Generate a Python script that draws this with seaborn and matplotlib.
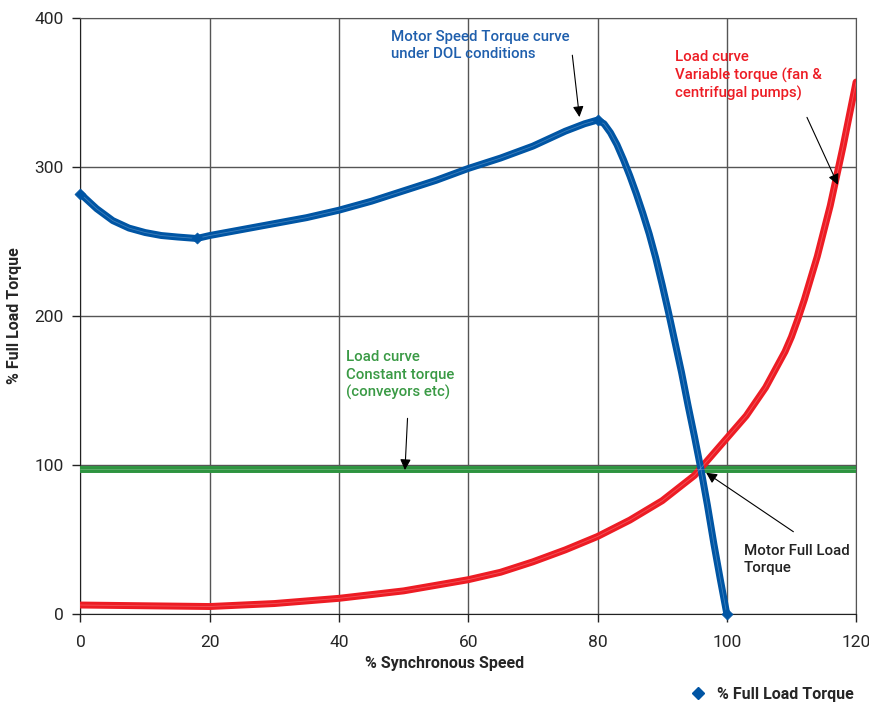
# Motor speed-torque curve under DOL start, with two load curves

import numpy as np
import pandas as pd
import seaborn as sns
import matplotlib.pyplot as plt
from matplotlib.lines import Line2D

# motor curve (% synchronous speed, % full load torque)
motor_speed = [0, 2.5, 5, 7.5, 10, 12.5, 15, 18, 20, 25, 30, 35, 40, 45, 50, 55,
               60, 65, 70, 75, 78, 80, 81, 82, 83, 84, 85, 86, 87, 88, 89, 90, 91,
               92, 93, 94, 95, 96, 97, 98, 99, 100]
motor_torque = [282, 272, 264, 259, 256, 254, 253, 252, 254, 258, 262, 266, 271, 277,
                284, 291, 299, 306, 314, 324, 329, 331.5, 329, 323, 315, 305, 294,
                282, 269, 255, 239, 221, 202, 182, 162, 140, 119, 97, 73, 47, 23, 0]

# points carrying a diamond marker
marker_speed = [0, 18, 80, 100]
marker_torque = [282, 252, 331.5, 0]

# variable torque load (fans & pumps)
var_speed = [0, 10, 20, 30, 40, 50, 60, 65, 70, 75, 80, 85, 90, 95, 100, 103, 106,
             109, 110, 111, 112, 114, 116, 118, 120]
var_torque = [6, 5.5, 5, 7, 10.5, 15.5, 23, 28, 35, 43, 52, 63, 76, 93, 118, 133,
              152, 176, 186, 198, 211, 240, 274, 314, 357]

# constant torque load (conveyors)
const_speed = [0, 120]
const_torque = [97.5, 97.5]

BLUE = "#0055a4"
RED = "#ed1c24"
GREEN = "#2e9440"

sns.set_style("white")
plt.rcParams["font.family"] = ["Roboto", "DejaVu Sans"]

fig, ax = plt.subplots(figsize=(8.7, 7.02), dpi=100)
fig.subplots_adjust(left=0.0925, right=0.984, bottom=0.1254, top=0.9744)

curves = [
    (const_speed, const_torque, GREEN),
    (var_speed, var_torque, RED),
    (motor_speed, motor_torque, BLUE),
]
for xs, ys, col in curves:
    df = pd.DataFrame({"x": xs, "y": ys})
    sns.lineplot(data=df, x="x", y="y", sort=False, color=col, lw=5, ax=ax,
                 solid_capstyle="round", solid_joinstyle="round", zorder=3)
    # faint light core, the doubled-line look of the original
    sns.lineplot(data=df, x="x", y="y", sort=False, color="white", lw=0.6,
                 alpha=0.25, ax=ax, zorder=4)

sns.scatterplot(x=marker_speed, y=marker_torque, marker="D", s=32, color=BLUE,
                edgecolor=BLUE, ax=ax, zorder=5, clip_on=False)

ax.set_xlim(0, 120)
ax.set_ylim(0, 400)
ax.set_xticks(range(0, 121, 20))
ax.set_yticks(range(0, 401, 100))
ax.grid(True, color="#555555", lw=1.0)
ax.set_axisbelow(True)
for side in ["top", "right"]:
    ax.spines[side].set_color("#555555")
for side in ["left", "bottom"]:
    ax.spines[side].set_color("#222222")
ax.tick_params(axis="both", which="major", direction="out", length=6, width=1,
               color="#222222", labelsize=12.5, left=True, bottom=True)
ax.tick_params(axis="x", pad=9)
ax.tick_params(axis="y", pad=6)

ax.set_xlabel("% Synchronous Speed", fontsize=11.5, fontweight="bold")
ax.set_ylabel("% Full Load Torque", fontsize=11.5, fontweight="bold")
ax.xaxis.set_label_coords(0.47, -0.07)
ax.yaxis.set_label_coords(-0.075, 0.5)

# annotations
txt = dict(fontsize=10.8, va="top", ha="left", linespacing=1.3, zorder=6,
           fontweight="medium")
ax.text(48.1, 392, "Motor Speed Torque curve\nunder DOL conditions", color="#1f5fad", **txt)
ax.text(92, 378.5, "Load curve\nVariable torque (fan &\ncentrifugal pumps)", color=RED, **txt)
ax.text(41.1, 177, "Load curve\nConstant torque\n(conveyors etc)", color="#3a9a45", **txt)
ax.text(102.6, 47, "Motor Full Load\nTorque", color="#222222", **txt)

arrows = [
    ((77.2, 333.5), (76.1, 375)),
    ((117.2, 288), (112.4, 333.3)),
    ((50.2, 96.6), (50.6, 131.3)),
    ((96.8, 94.8), (110.3, 55.2)),
]
for head, tail in arrows:
    ax.annotate("", xy=head, xytext=tail, zorder=7,
                arrowprops=dict(arrowstyle="-|>", color="black", lw=0.8,
                                mutation_scale=16, shrinkA=0, shrinkB=0))

handle = Line2D([], [], marker="D", color=BLUE, lw=0, markersize=6)
fig.legend([handle], ["% Full Load Torque"], loc="lower right",
           bbox_to_anchor=(0.998, -0.02), frameon=False, handletextpad=0.2,
           prop=dict(size=11.5, weight="bold"))

plt.savefig("out.png", dpi=100)
